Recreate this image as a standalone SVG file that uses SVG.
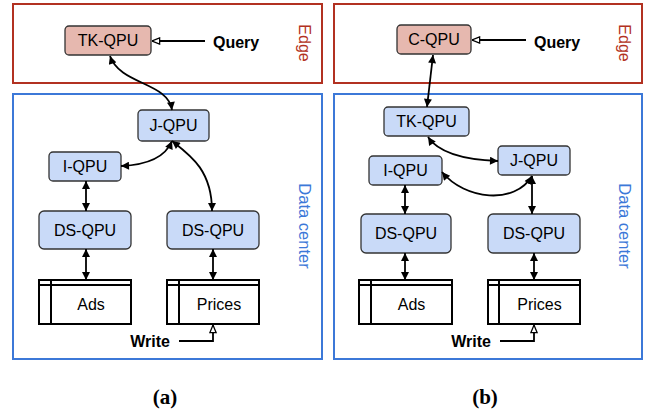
<svg xmlns="http://www.w3.org/2000/svg" width="646" height="413" viewBox="0 0 646 413">
<style>
.edge{fill:none;stroke:#b23121;stroke-width:2}
.dc{fill:none;stroke:#3c78d8;stroke-width:2}
.lbl{font-family:"Liberation Sans",Arial,sans-serif;font-size:16px;text-anchor:middle}
.edgetxt{fill:#b23121}
.dctxt{fill:#3c78d8}
.pink{fill:#e6b8af;stroke:#333;stroke-width:1.3}
.blue{fill:#c9daf8;stroke:#333;stroke-width:1.3}
.ntxt{font-family:"Liberation Sans",Arial,sans-serif;font-size:16px;text-anchor:middle;fill:#000}
.tbl{fill:#fff;stroke:#000;stroke-width:2}
.tl{stroke:#000;stroke-width:2}
.bold{font-family:"Liberation Sans",Arial,sans-serif;font-size:16px;font-weight:bold;fill:#000}
.conn{fill:none;stroke:#000;stroke-width:1.8}
.da{marker-start:url(#ah);marker-end:url(#ah)}
.oa{marker-end:url(#oh)}
.cap{font-family:"Liberation Serif","Times New Roman",serif;font-size:21px;font-weight:bold;text-anchor:middle;fill:#000}
</style>
<defs>
<marker id="ah" viewBox="0 0 10 10" refX="10" refY="5" markerWidth="10" markerHeight="8" markerUnits="userSpaceOnUse" orient="auto-start-reverse"><path d="M0,0 L10,5 L0,10 z" fill="#000"/></marker>
<marker id="oh" viewBox="0 0 10 10" refX="9.5" refY="5" markerWidth="9" markerHeight="9" markerUnits="userSpaceOnUse" orient="auto"><path d="M1,1.5 L9.5,5 L1,8.5 z" fill="#fff" stroke="#000" stroke-width="1.4"/></marker>
</defs>

<!-- Panel (a) -->
<g id="a-edge-zone">
<rect class="edge" x="13" y="4" width="309" height="79"/>
<text class="lbl edgetxt" transform="translate(304,43) rotate(90)" y="5.5">Edge</text>
</g>
<g id="a-dc-zone">
<rect class="dc" x="13" y="94" width="309" height="265"/>
<text class="lbl dctxt" transform="translate(304,226) rotate(90)" y="5.5" style="font-size:16.5px">Data center</text>
</g>
<g id="a-tk"><rect class="pink" x="65" y="26" width="86" height="29" rx="4"/><text class="ntxt" x="108" y="46">TK-QPU</text></g>
<g id="a-j"><rect class="blue" x="138" y="110" width="71" height="31" rx="4"/><text class="ntxt" x="173.5" y="131">J-QPU</text></g>
<g id="a-i"><rect class="blue" x="49" y="152" width="72" height="29" rx="4"/><text class="ntxt" x="85" y="172">I-QPU</text></g>
<g id="a-ds1"><rect class="blue" x="39" y="211" width="92" height="38" rx="5"/><text class="ntxt" x="85" y="235.5">DS-QPU</text></g>
<g id="a-ds2"><rect class="blue" x="167" y="211" width="92" height="38" rx="5"/><text class="ntxt" x="213" y="235.5">DS-QPU</text></g>
<g id="a-ads"><rect class="tbl" x="39" y="280" width="92" height="44"/><line class="tl" x1="39" y1="285" x2="131" y2="285"/><line class="tl" x1="51" y1="280" x2="51" y2="324"/><text class="ntxt" x="91" y="310">Ads</text></g>
<g id="a-prices"><rect class="tbl" x="167" y="280" width="92" height="44"/><line class="tl" x1="167" y1="285" x2="259" y2="285"/><line class="tl" x1="179" y1="280" x2="179" y2="324"/><text class="ntxt" x="219" y="310">Prices</text></g>
<g id="a-query"><text class="bold" x="213" y="47.5">Query</text></g>
<g id="a-write"><text class="bold" x="170" y="347" text-anchor="end">Write</text></g>
<g id="a-cap"><text class="cap" x="165" y="404">(a)</text></g>

<!-- Panel (b) -->
<g id="b-edge-zone">
<rect class="edge" x="334" y="4" width="308" height="79"/>
<text class="lbl edgetxt" transform="translate(624,43) rotate(90)" y="5.5">Edge</text>
</g>
<g id="b-dc-zone">
<rect class="dc" x="334" y="94" width="308" height="265"/>
<text class="lbl dctxt" transform="translate(624,226) rotate(90)" y="5.5" style="font-size:16.5px">Data center</text>
</g>
<g id="b-c"><rect class="pink" x="397" y="25" width="74" height="29" rx="4"/><text class="ntxt" x="434" y="45">C-QPU</text></g>
<g id="b-tk"><rect class="blue" x="384" y="107" width="85" height="29" rx="4"/><text class="ntxt" x="426.5" y="127">TK-QPU</text></g>
<g id="b-j"><rect class="blue" x="498" y="146" width="72" height="29" rx="4"/><text class="ntxt" x="534" y="166">J-QPU</text></g>
<g id="b-i"><rect class="blue" x="369" y="156" width="73" height="29" rx="4"/><text class="ntxt" x="405.5" y="176">I-QPU</text></g>
<g id="b-ds1"><rect class="blue" x="361" y="214" width="90" height="39" rx="5"/><text class="ntxt" x="406" y="239">DS-QPU</text></g>
<g id="b-ds2"><rect class="blue" x="488" y="214" width="92" height="39" rx="5"/><text class="ntxt" x="534" y="239">DS-QPU</text></g>
<g id="b-ads"><rect class="tbl" x="359" y="280" width="93" height="44"/><line class="tl" x1="359" y1="285" x2="452" y2="285"/><line class="tl" x1="371" y1="280" x2="371" y2="324"/><text class="ntxt" x="411.5" y="310">Ads</text></g>
<g id="b-prices"><rect class="tbl" x="488" y="280" width="92" height="44"/><line class="tl" x1="488" y1="285" x2="580" y2="285"/><line class="tl" x1="499" y1="280" x2="499" y2="324"/><text class="ntxt" x="539.5" y="310">Prices</text></g>
<g id="b-query"><text class="bold" x="534" y="47.5">Query</text></g>
<g id="b-write"><text class="bold" x="491" y="347" text-anchor="end">Write</text></g>
<g id="b-cap"><text class="cap" x="485" y="404">(b)</text></g>

<g id="connectors">
<path class="conn oa" d="M205,41 L152,41"/>
<path class="conn oa" d="M179,341 L213,341 L213,325"/>
<path class="conn da" d="M110,56 C120,85 168,82 172,110"/>
<path class="conn da" d="M172,141 C165,158 145,165 121,166"/>
<path class="conn da" d="M172,141 C190,155 212,170 212,211"/>
<path class="conn da" d="M86,181 L86,211"/>
<path class="conn da" d="M86,249 L86,280"/>
<path class="conn da" d="M213,249 L213,280"/>

<path class="conn oa" d="M526,40 L472,40"/>
<path class="conn oa" d="M500,341 L534,341 L534,325"/>
<path class="conn da" d="M433,55 L427,107"/>
<path class="conn da" d="M428,137 C440,155 470,160 498,161"/>
<path class="conn da" d="M442,172 C465,200 515,205 532,176"/>
<path class="conn da" d="M532,176 L532,214"/>
<path class="conn da" d="M405,185 L405,214"/>
<path class="conn da" d="M405,253 L405,280"/>
<path class="conn da" d="M534,253 L534,280"/>
</g>
</svg>
